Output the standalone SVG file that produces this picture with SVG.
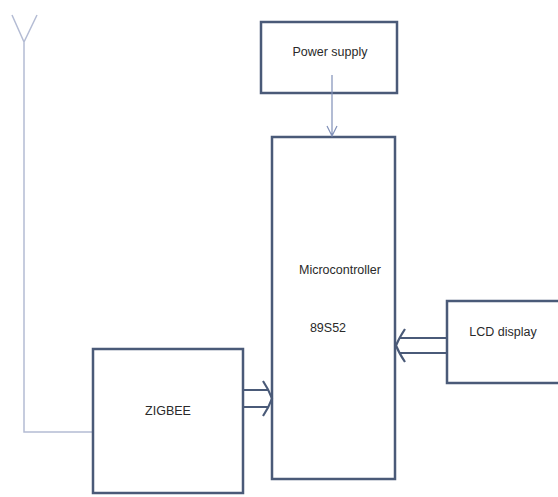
<svg xmlns="http://www.w3.org/2000/svg" width="558" height="497" viewBox="0 0 558 497">
<style>
.box{fill:#fff;stroke:#4a5a78;stroke-width:2.5}
.t{font-family:"Liberation Sans",Arial,sans-serif;font-size:12.5px;fill:#2a2a2a;text-anchor:middle}
.ant{fill:none;stroke:#b4bcd4;stroke-width:1.5}
.dbl{fill:none;stroke:#4a5a78;stroke-width:2.2}
.thin{fill:none;stroke:#8090b8;stroke-width:1.2}
</style>
<rect width="558" height="497" fill="#fff"/>
<g id="antenna">
<path class="ant" d="M12,15 L24,42 L37,15 M24,42 V432 H93"/>
</g>
<g id="power">
<rect class="box" x="261" y="22" width="136" height="71"/>
<text class="t" x="330" y="56">Power supply</text>
</g>
<g id="micro">
<rect class="box" x="272" y="137" width="123" height="342"/>
<text class="t" x="340" y="274">Microcontroller</text>
<text class="t" x="328" y="332">89S52</text>
</g>
<g id="lcd">
<rect class="box" x="447" y="301" width="115" height="82"/>
<text class="t" x="503" y="336">LCD display</text>
</g>
<g id="zigbee">
<rect class="box" x="93" y="349" width="150" height="144"/>
<text class="t" x="168" y="415">ZIGBEE</text>
</g>
<g id="connectors">
<path class="thin" d="M332,75 V136 M327,126 L332,136 L337,126"/>
<path class="dbl" d="M244,390 H268 M244,407 H268 M263,381 Q269,390 272,398.5 Q269,407 263,416"/>
<path class="dbl" d="M446,338 H400 M446,353 H400 M405,329 Q399,338 396,345.5 Q399,353 405,362"/>
</g>
</svg>
